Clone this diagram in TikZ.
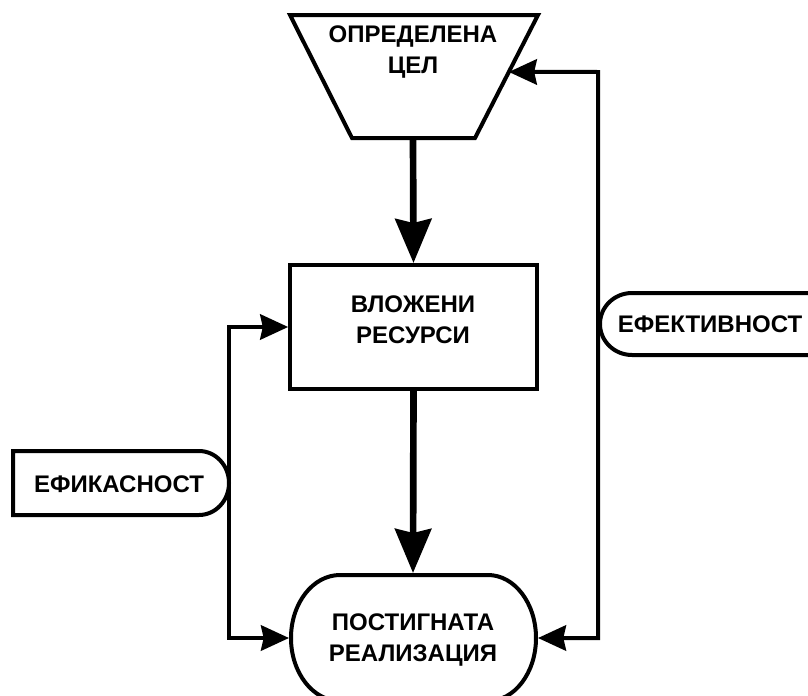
\documentclass[tikz,border=0pt]{standalone}
\usepackage{fontspec}
\setmainfont{Liberation Sans}
\usetikzlibrary{calc,arrows.meta}
\tikzset{
  lbl/.style={font=\bfseries\fontsize{18}{23}\selectfont, align=center, inner sep=0pt},
  outl/.style={line width=3pt, line join=miter},
  mainarrow/.style={line width=5pt, -{Stealth[length=33pt,width=27pt,inset=3pt]}},
  backloop/.style={line width=3pt, line join=miter,
    {Stealth[length=21pt,width=19pt,inset=2pt]}-{Stealth[length=21pt,width=19pt,inset=2pt]}}
}

\begin{document}
\begin{tikzpicture}[x=0.75pt,y=-0.75pt]
  \useasboundingbox (0,0) rectangle (808,696);
  \clip (0,0) rectangle (808,696);

  % goal (trapezium)
  \draw[outl] (290,15) coordinate (gtl) -- (538,15) coordinate (gtr)
    -- (475,138) coordinate (gbr) -- (352,138) coordinate (gbl) -- cycle;
  \node[lbl] (goal) at (413,52) {ОПРЕДЕЛЕНА\\ЦЕЛ};
  \coordinate (goalS) at (413,138);
  \coordinate (goalE) at ($(gtr)!0.463!(gbr)$);

  % resources
  \node[draw, outl, minimum width=185pt, minimum height=93pt] (res) at (413.5,327) {};
  \node[lbl] (resl) at (413,320) {ВЛОЖЕНИ\\РЕСУРСИ};

  % result (rounded)
  \draw[outl] (340,575) -- (488,575)
    arc[start angle=-90, end angle=90, x radius=48, y radius=63]
    -- (340,701)
    arc[start angle=90, end angle=270, x radius=49, y radius=63] -- cycle;
  \node[lbl] (real) at (413,640) {ПОСТИГНАТА\\РЕАЛИЗАЦИЯ};
  \coordinate (realN) at (413,573);
  \coordinate (realW) at (289,638);
  \coordinate (realE) at (538,638);

  % tags
  \draw[outl] (13,451) -- (199,451)
    arc[start angle=-90, end angle=90, x radius=30, y radius=32]
    -- (13,515) -- cycle;
  \node[lbl] (efik) at (119,484) {ЕФИКАСНОСТ};
  \draw[outl] (830,293) -- (632,293)
    arc[start angle=-90, end angle=-270, x radius=32, y radius=31]
    -- (830,355);
  \node[lbl] (efek) at (710,324) {ЕФЕКТИВНОСТ};

  % connectors
  \draw[mainarrow] (goalS) -- (res.north);
  \draw[mainarrow] (res.south) -- (realN);
  \draw[backloop] (res.west) -- (229,327) -- (229,638) -- (realW);
  \draw[backloop] (realE) -- (598,638) -- (598,72) -- (goalE);
\end{tikzpicture}
\end{document}
